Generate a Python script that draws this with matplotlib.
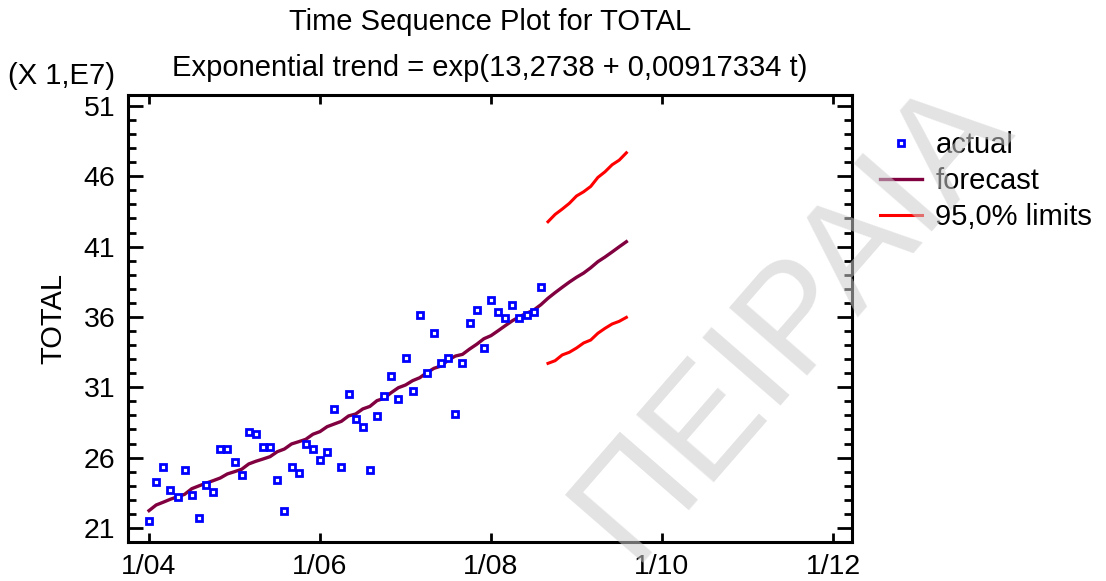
import matplotlib
matplotlib.use("Agg")
import matplotlib.pyplot as plt
from matplotlib.ticker import MultipleLocator, FixedLocator
from matplotlib.lines import Line2D

plt.rcParams['font.family'] = ['Liberation Sans', 'DejaVu Sans']

# ---- data (months since 1/04, values in units of 1E7) ----
actual_vals = [21.52, 24.27, 25.31, 23.72, 23.18, 25.12, 23.35, 21.71, 24.08, 23.54,
               26.59, 26.59, 25.69, 24.77, 27.85, 27.66, 26.78, 26.78, 24.43, 22.23,
               25.31, 24.93, 26.97, 26.59, 25.86, 26.40, 29.44, 25.31, 30.55, 28.75,
               28.20, 25.12, 28.94, 30.36, 31.80, 30.17, 33.10, 30.71, 36.14, 32.00,
               34.86, 32.73, 33.10, 29.10, 32.73, 35.59, 36.49, 33.77, 37.23, 36.33,
               35.95, 36.87, 35.95, 36.14, 36.33, 38.13]
actual_months = list(range(len(actual_vals)))

forecast_vals = [22.23, 22.63, 22.83, 23.04, 23.22, 23.39, 23.79, 23.99, 24.18, 24.36,
                 24.55, 24.84, 25.00, 25.17, 25.55, 25.74, 25.90, 26.07, 26.42, 26.61,
                 26.97, 27.13, 27.30, 27.66, 27.85, 28.20, 28.39, 28.58, 28.96, 29.10,
                 29.46, 29.64, 30.05, 30.22, 30.62, 30.97, 31.16, 31.47, 31.68, 32.04,
                 32.35, 32.51, 32.94, 33.22, 33.34, 33.72, 34.06, 34.45, 34.67, 35.02,
                 35.38, 35.73, 36.02, 36.26, 36.49, 36.87, 37.33, 37.73, 38.11, 38.48,
                 38.82, 39.12, 39.50, 39.93, 40.26, 40.62, 40.99, 41.35]
forecast_months = list(range(len(forecast_vals)))

limit_months = list(range(56, 68))
upper_vals = [42.77, 43.29, 43.67, 44.08, 44.60, 44.90, 45.28, 45.92, 46.32, 46.82, 47.15, 47.67]
lower_vals = [32.70, 32.89, 33.30, 33.49, 33.79, 34.15, 34.36, 34.84, 35.19, 35.50, 35.69, 35.97]

xtick_months = [0, 24, 48, 72, 96]
xtick_labels = ["1/04", "1/06", "1/08", "1/10", "1/12"]
ytick_values = [21, 26, 31, 36, 41, 46, 51]

W, H = 1106, 581
fig = plt.figure(figsize=(W / 100, H / 100), dpi=100)
ax = fig.add_axes([128 / W, 1 - 542 / H, (852 - 128) / W, (542 - 95) / H])

ax.plot(forecast_months, forecast_vals, color='#800040', lw=2.4, zorder=3)
ax.plot(limit_months, upper_vals, color='#ff0000', lw=2.2, zorder=3)
ax.plot(limit_months, lower_vals, color='#ff0000', lw=2.2, zorder=3)
ax.plot(actual_months, actual_vals, ls='none', marker='s', ms=4.6, mew=2.0,
        mfc='white', mec='#0000ff', zorder=4)

ax.set_xlim(-2.95, 98.67)
ax.set_ylim(20.0, 51.78)
ax.xaxis.set_major_locator(FixedLocator(xtick_months))
ax.set_xticklabels(xtick_labels)
ax.yaxis.set_major_locator(FixedLocator(ytick_values))
ax.yaxis.set_minor_locator(MultipleLocator(1))

for s in ax.spines.values():
    s.set_linewidth(2.2)
ax.tick_params(axis='both', which='both', direction='in', top=True, right=True,
               labelsize=20.5, width=2.0, colors='black')
ax.tick_params(axis='x', which='major', length=6.5, pad=9)
ax.tick_params(axis='y', which='major', length=11, pad=9)
ax.tick_params(axis='y', which='minor', length=5.5)

ax.set_ylabel("TOTAL", fontsize=21, labelpad=12)

fig.text(490 / W, 1 - 30 / H, "Time Sequence Plot for TOTAL", fontsize=21,
         ha='center', va='baseline')
fig.text(490 / W, 1 - 76 / H, "Exponential trend = exp(13,2738 + 0,00917334 t)",
         fontsize=21, ha='center', va='baseline')
fig.text(8 / W, 1 - 84 / H, "(X 1,E7)", fontsize=21, ha='left', va='baseline')

handles = [
    Line2D([], [], ls='none', marker='s', ms=4.6, mew=2.0, mfc='white', mec='#0000ff'),
    Line2D([], [], color='#800040', lw=2.4),
    Line2D([], [], color='#ff0000', lw=2.2),
]
fig.legend(handles, ["actual", "forecast", "95,0% limits"], loc='upper left',
           bbox_to_anchor=(880 / W, 1 - 131 / H), frameon=False, fontsize=21,
           handlelength=1.45, handletextpad=0.45, labelspacing=0.28, borderaxespad=0,
           borderpad=0)

fig.text(792 / W, 1 - 318 / H, "ΠΕΙΡΑΙΑ", fontsize=108, rotation=49,
         color=(0.80, 0.80, 0.80), alpha=0.55, ha='center', va='center',
         rotation_mode='anchor', zorder=10)

fig.savefig("out.png", dpi=100)
